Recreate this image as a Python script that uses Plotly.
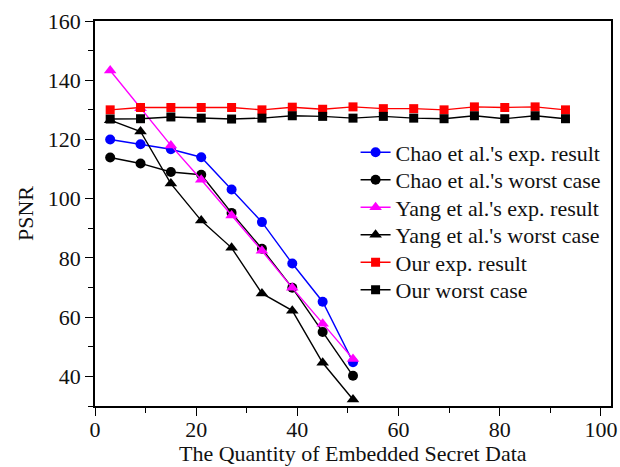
import plotly.graph_objects as go

x_ours = [3, 9, 15, 21, 27, 33, 39, 45, 51, 57, 63, 69, 75, 81, 87, 93]
x_prev = [3, 9, 15, 21, 27, 33, 39, 45, 51]

chao_exp = [120, 118.4, 116.7, 114, 103.1, 92.1, 78.1, 65.2, 44.8]
chao_worst = [113.9, 111.9, 109, 108.1, 95.2, 83.1, 69.9, 55, 40.2]
yang_exp = [143.3, 130.5, 118, 106.4, 94.3, 82.4, 69.9, 57.8, 45.9]
yang_worst = [126.5, 122.7, 105.1, 92.6, 83.4, 68, 62.2, 44.6, 32.2]
our_exp = [130, 130.8, 130.8, 130.8, 130.8, 130, 130.9, 130.2, 131, 130.4, 130.4, 130, 131, 130.8, 131, 130]
our_worst = [126.9, 127, 127.6, 127.2, 126.9, 127.2, 128, 127.8, 127.2, 127.8, 127.2, 127, 128, 127, 128, 127]

names = ["Chao et al.'s exp. result", "Chao et al.'s worst case",
         "Yang et al.'s exp. result", "Yang et al.'s worst case",
         "Our exp. result", "Our worst case"]
x_title = "The Quantity of Embedded Secret Data"
y_title = "PSNR"

series = [
    (x_prev, chao_exp, "#0000FF", "circle", 10),
    (x_prev, chao_worst, "#000000", "circle", 10),
    (x_prev, yang_exp, "#FF00FF", "triangle-up", 11),
    (x_prev, yang_worst, "#000000", "triangle-up", 11),
    (x_ours, our_exp, "#FF0000", "square", 9),
    (x_ours, our_worst, "#000000", "square", 9),
]

font_family = "Liberation Serif"
legend_refs = ["legend", "legend2", "legend3", "legend4", "legend5", "legend6"]

fig = go.Figure()
for i, (name, (xs, ys, color, sym, sz)) in enumerate(zip(names, series)):
    fig.add_trace(go.Scatter(
        x=xs, y=ys, name=name, mode="lines+markers",
        line=dict(color=color, width=1.4),
        marker=dict(symbol=sym, size=sz, color=color),
        legend=legend_refs[i],
    ))

axis_common = dict(
    showline=True, linecolor="black", linewidth=1.5, mirror=True,
    ticks="outside", ticklen=8, tickwidth=1.3, tickcolor="black",
    showgrid=False, zeroline=False, automargin=False,
    tickfont=dict(family=font_family, size=22, color="#111"),
)

# plot area in pixels: top 21, bottom 406 (height 385)
legend_rows_px = [152.5, 180, 207.5, 235, 262.5, 290]
legend_layout = {}
for ref, ypx in zip(legend_refs, legend_rows_px):
    legend_layout[ref] = dict(
        x=0.505, y=(406 - ypx) / 385, xanchor="left", yanchor="middle",
        bgcolor="rgba(0,0,0,0)", borderwidth=0,
        font=dict(family=font_family, size=22, color="#111"),
    )

fig.update_layout(
    width=620, height=467,
    margin=dict(l=95, r=9, t=21, b=61),
    paper_bgcolor="white", plot_bgcolor="white",
    font=dict(family=font_family, size=22, color="#111"),
    showlegend=True,
    xaxis=dict(range=[0, 102], tick0=0, dtick=20, ticklabelstandoff=-5,
               minor=dict(ticks="outside", ticklen=5, dtick=10, tickcolor="black", tickwidth=1.2),
               **axis_common),
    yaxis=dict(range=[30, 160], tick0=0, dtick=20,
               minor=dict(ticks="outside", ticklen=5, dtick=10, tickcolor="black", tickwidth=1.2),
               title=dict(text=y_title, standoff=8,
                          font=dict(family=font_family, size=22, color="#111")),
               **axis_common),
    annotations=[dict(
        text=x_title, xref="paper", yref="paper", x=0.5, y=(406 - 453) / 385,
        xanchor="center", yanchor="middle", showarrow=False, borderpad=0,
        font=dict(family=font_family, size=22, color="#111"),
    )],
    **legend_layout,
)

fig.write_html("out.html")
